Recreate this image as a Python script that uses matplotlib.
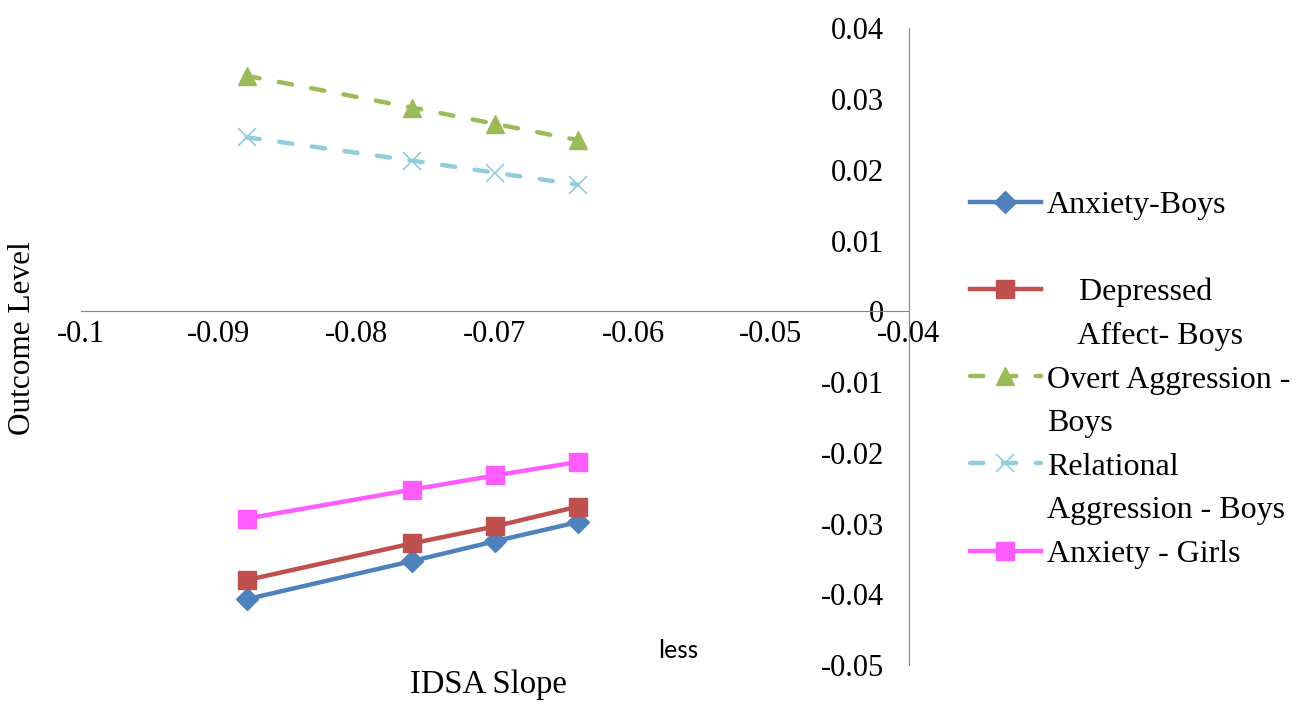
import matplotlib
matplotlib.use('Agg')
import matplotlib.pyplot as plt
from matplotlib.lines import Line2D

plt.rcParams['font.family'] = ['Liberation Serif', 'DejaVu Serif']

# IDSA slope values (x) shared by all series
idsa_slope = [-0.088, -0.076, -0.070, -0.064]

anxiety_boys = [-0.0407, -0.0353, -0.0325, -0.0298]
depressed_boys = [-0.0380, -0.0328, -0.0304, -0.0276]
overt_boys = [0.0333, 0.0288, 0.0265, 0.0242]
relational_boys = [0.0246, 0.0213, 0.0196, 0.0179]
anxiety_girls = [-0.0293, -0.0252, -0.0232, -0.0213]

x_ticks = [-0.1, -0.09, -0.08, -0.07, -0.06, -0.05, -0.04]
y_ticks = [0.04, 0.03, 0.02, 0.01, 0, -0.01, -0.02, -0.03, -0.04, -0.05]

fig = plt.figure(figsize=(13.06, 7.09), dpi=100)
ax = fig.add_axes([0.062, 0.062, 0.634, 0.898])

dash_kw = dict(dashes=(3, 4.4), dash_capstyle='round')
l1, = ax.plot(idsa_slope, anxiety_boys, '-', marker='D', color='#4F81BD', lw=3.2, ms=11)
l2, = ax.plot(idsa_slope, depressed_boys, '-', marker='s', color='#C0504D', lw=3.2, ms=13)
l3, = ax.plot(idsa_slope, overt_boys, '--', marker='^', color='#9BBB59', lw=3.2, ms=13, **dash_kw)
l4, = ax.plot(idsa_slope, relational_boys, '--', marker='x', color='#93CDDD', lw=3.2, ms=13,
              mew=1.2, **dash_kw)
l5, = ax.plot(idsa_slope, anxiety_girls, '-', marker='s', color='#FF5CFF', lw=3.2, ms=13)

ax.set_xlim(-0.1, -0.04)
ax.set_ylim(-0.05, 0.04)
ax.set_xticks(x_ticks)
ax.set_xticklabels(['-0.1', '-0.09', '-0.08', '-0.07', '-0.06', '-0.05', '-0.04'])
ax.set_yticks(y_ticks)
ax.set_yticklabels(['0.04', '0.03', '0.02', '0.01', '0', '-0.01', '-0.02', '-0.03', '-0.04', '-0.05'])

# axes cross at x=-0.04 and y=0 like the excel chart
ax.spines['left'].set_position(('data', -0.04))
ax.spines['bottom'].set_position(('data', 0))
ax.spines['top'].set_visible(False)
ax.spines['right'].set_visible(False)
ax.spines['left'].set_color('#868686')
ax.spines['bottom'].set_color('#868686')
ax.tick_params(axis='both', length=0, labelsize=22)
ax.tick_params(axis='y', pad=18)
ax.tick_params(axis='x', pad=6)
ax.patch.set_alpha(0)

fig.text(0.374, 0.034, 'IDSA Slope', ha='center', va='center', fontsize=23.5)
fig.text(0.017, 0.523, 'Outcome Level', ha='center', va='center', rotation=90, fontsize=22.5)
fig.text(0.519, 0.083, 'less', ha='center', va='center', fontsize=19,
         family=['Carlito', 'Liberation Sans', 'DejaVu Sans'])

blank = Line2D([], [], color='none')
handles = [l1, blank, l2, blank, l3, blank, l4, blank, l5]
labels = ['Anxiety-Boys', ' ', '    Depressed', '    Affect- Boys', 'Overt Aggression -',
          'Boys', 'Relational', 'Aggression - Boys', 'Anxiety - Girls']
fig.legend(handles, labels, loc='upper left', bbox_to_anchor=(0.743, 0.731), frameon=False,
           fontsize=23, numpoints=1, handlelength=2.2, handletextpad=0.2,
           labelspacing=0.445, borderpad=0, borderaxespad=0)

fig.savefig('out.png', dpi=100)
